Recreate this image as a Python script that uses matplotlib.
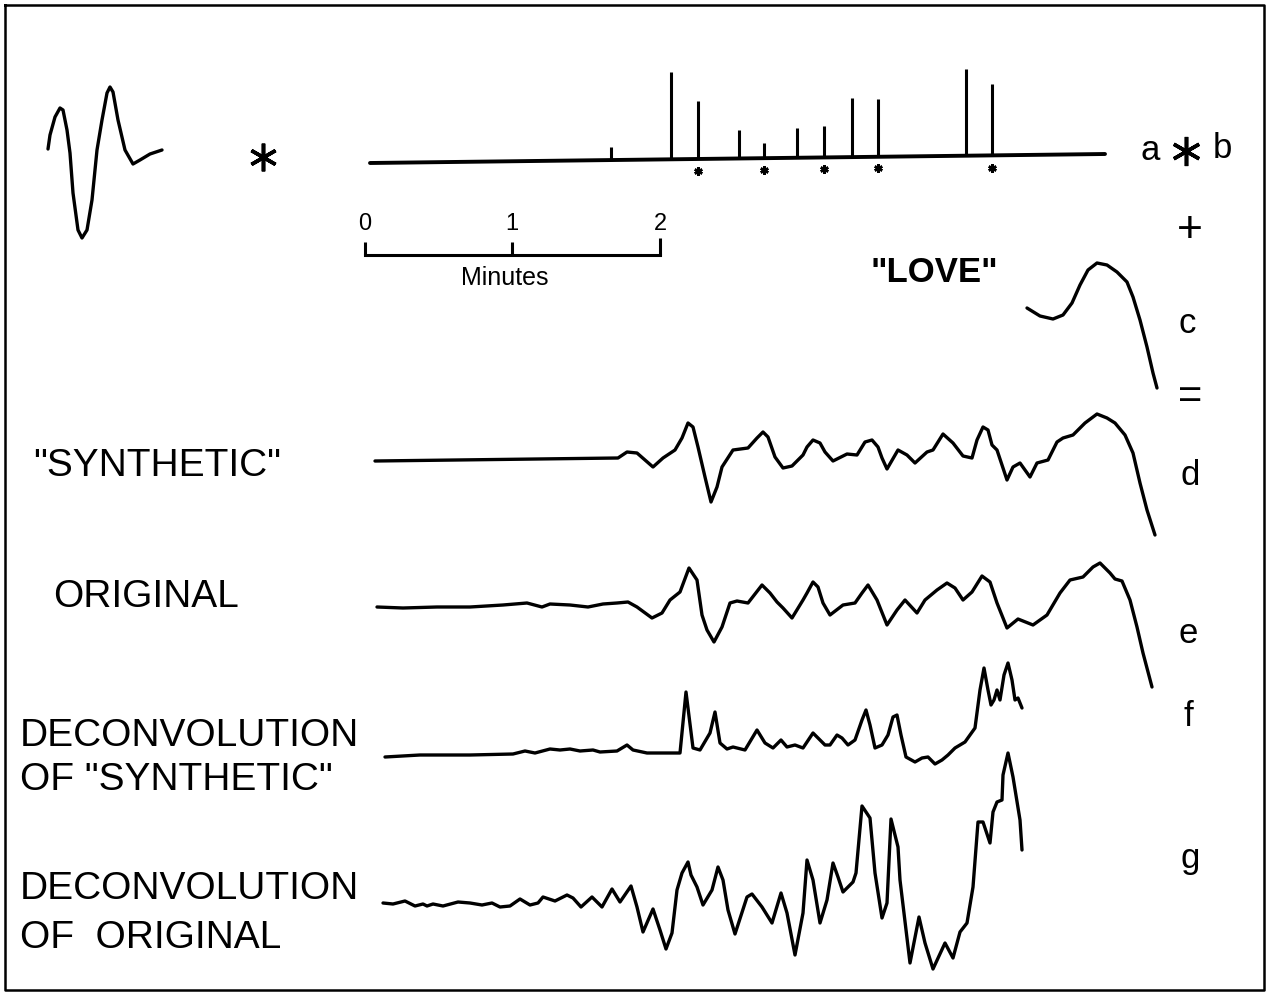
"""
Convolution sketch of a seismic record: wavelet a convolved with the
spike train b, plus the long-period "LOVE" arrival c, gives the synthetic
trace d.  Below it: the observed trace e and the two deconvolutions f, g.

Everything is drawn in page coordinates (pixels, y pointing down) on a
single frameless axes.
"""
import matplotlib
matplotlib.use("Agg")
import matplotlib.pyplot as plt

W, H = 1286, 996
FONT = ["Liberation Sans", "DejaVu Sans"]
INK = "black"

# wavelet a (top left)
WAVELET_A_X = [48, 50, 55, 60, 63, 67, 70, 73, 78, 82, 87, 92, 97, 102, 107,
               110, 113, 118, 125, 133, 140, 150, 162]
WAVELET_A_Y = [149, 135, 117, 108, 110, 130, 153, 193, 230, 238, 230, 200, 150,
               120, 93, 87, 92, 120, 150, 164, 160, 154, 150]

# spike train b
B_BASE_X = [370, 1105]
B_BASE_Y = [163, 154]
SPIKE_X = [611, 671, 698, 739, 764, 797, 824, 852, 878, 966, 992]
SPIKE_TOP = [147, 72, 101, 130, 143, 128, 126, 98, 99, 69, 84]
SPIKE_BASE = [160, 158, 158, 157, 157, 156, 156, 156, 155, 155, 155]
STARRED_X = [698, 764, 824, 878, 992]
STARRED_Y = [171, 170, 169, 168, 168]

# time scale
SCALE_X = [365, 512, 660]
SCALE_LABELS = ["0", "1", "2"]
SCALE_Y = 255

# "LOVE" wave c
LOVE_X = [1027, 1040, 1053, 1063, 1072, 1080, 1088, 1097, 1107, 1117, 1127,
          1133, 1140, 1147, 1153, 1157]
LOVE_Y = [308, 316, 319, 315, 303, 285, 270, 263, 265, 272, 282, 297, 320, 347,
          373, 388]

# d: synthetic seismogram
SYN_X = [375, 618, 627, 637, 653, 663, 675, 682, 688, 693, 698, 705, 711, 717,
         722, 733, 748, 757, 763, 768, 775, 783, 792, 803, 807, 813, 820, 825,
         833, 847, 857, 865, 872, 878, 882, 887, 898, 907, 915, 927, 933, 943,
         953, 963, 972, 977, 983, 988, 992, 997, 1007, 1013, 1020, 1030, 1037,
         1048, 1057, 1063, 1073, 1085, 1097, 1107, 1115, 1125, 1133, 1140, 1147,
         1155]
SYN_Y = [461, 458, 452, 453, 467, 458, 450, 438, 423, 427, 447, 477, 502, 487,
         467, 450, 448, 438, 432, 437, 457, 468, 466, 455, 447, 440, 443, 452,
         461, 454, 455, 442, 440, 447, 458, 469, 450, 455, 463, 452, 450, 434,
         443, 456, 458, 440, 427, 430, 445, 450, 480, 467, 463, 477, 463, 460,
         442, 438, 435, 423, 414, 418, 423, 435, 453, 483, 510, 535]

# e: original record
ORIG_X = [377, 403, 437, 470, 503, 527, 542, 550, 570, 588, 603, 617, 628, 637,
          652, 662, 670, 680, 689, 697, 702, 707, 714, 722, 730, 737, 748, 762,
          770, 777, 783, 792, 803, 807, 813, 818, 823, 830, 843, 855, 862, 868,
          877, 887, 897, 905, 917, 925, 937, 947, 955, 963, 972, 982, 990, 997,
          1007, 1018, 1033, 1047, 1060, 1070, 1083, 1093, 1100, 1110, 1115, 1122,
          1130, 1137, 1143, 1152]
ORIG_Y = [607, 608, 607, 607, 605, 603, 607, 604, 605, 607, 604, 603, 602, 607,
          618, 613, 600, 592, 568, 580, 615, 630, 642, 627, 603, 601, 603, 585,
          593, 602, 608, 618, 600, 593, 582, 587, 603, 615, 605, 603, 593, 585,
          600, 625, 610, 600, 613, 600, 590, 583, 588, 600, 592, 576, 582, 603,
          628, 619, 625, 615, 593, 580, 577, 567, 563, 573, 579, 581, 600, 627,
          653, 687]

# f: deconvolution of the synthetic
DSYN_X = [385, 420, 470, 513, 525, 535, 550, 560, 570, 580, 593, 600, 617, 627,
          633, 647, 680, 686, 693, 700, 710, 715, 720, 727, 733, 745, 757, 765,
          773, 781, 787, 795, 803, 813, 825, 830, 837, 842, 848, 855, 862, 866,
          870, 875, 882, 888, 893, 897, 901, 906, 915, 922, 928, 935, 942, 948,
          955, 960, 965, 970, 975, 980, 984, 988, 991, 994, 997, 1000, 1004,
          1008, 1012, 1015, 1018, 1022]
DSYN_Y = [757, 755, 755, 754, 751, 753, 749, 750, 749, 751, 750, 752, 751, 745,
          750, 753, 753, 692, 748, 750, 733, 712, 743, 749, 747, 750, 730, 743,
          748, 740, 747, 745, 748, 733, 745, 745, 735, 738, 745, 740, 720, 710,
          725, 748, 745, 735, 717, 715, 735, 757, 762, 758, 757, 764, 760, 755,
          748, 745, 742, 735, 728, 690, 668, 690, 705, 700, 690, 700, 675, 663,
          680, 700, 698, 708]

# g: deconvolution of the original
DORIG_X = [383, 393, 405, 415, 423, 427, 433, 443, 458, 470, 482, 492, 500, 510,
           520, 530, 538, 543, 555, 567, 573, 581, 592, 602, 612, 620, 631, 637,
           643, 653, 660, 666, 672, 677, 682, 688, 691, 697, 703, 712, 718, 723,
           728, 735, 747, 752, 762, 772, 781, 787, 795, 803, 807, 813, 820, 827,
           833, 838, 843, 853, 856, 862, 870, 875, 882, 887, 891, 898, 900, 910,
           919, 925, 933, 945, 953, 960, 967, 973, 978, 983, 990, 993, 997, 1002,
           1003, 1008, 1013, 1020, 1022]
DORIG_Y = [903, 904, 901, 906, 904, 906, 904, 906, 902, 903, 905, 903, 907, 906,
           899, 905, 903, 897, 901, 895, 898, 907, 897, 907, 889, 902, 886, 907,
           932, 909, 930, 949, 933, 890, 873, 862, 875, 887, 905, 890, 867, 880,
           910, 934, 897, 894, 907, 923, 893, 913, 955, 913, 860, 880, 923, 900,
           863, 877, 892, 882, 873, 806, 818, 873, 918, 903, 819, 847, 880, 963,
           917, 943, 969, 943, 958, 932, 923, 887, 822, 822, 843, 812, 802, 800,
           775, 753, 777, 820, 850]

# right-hand letters and operators: (text, x, y, size)
RIGHT_LABELS = [("a", 1150, 150, 25), ("b", 1222, 148, 25),
                ("+", 1190, 230, 32), ("c", 1187, 323, 25),
                ("=", 1190, 397, 30), ("d", 1190, 475, 25),
                ("e", 1188, 633, 25), ("f", 1188, 716, 25),
                ("g", 1190, 858, 25)]

# left-hand captions: (text, x, y)
LEFT_LABELS = [('"SYNTHETIC"', 33, 466), ("ORIGINAL", 53, 597),
               ("DECONVOLUTION", 20, 736), ('OF "SYNTHETIC"', 20, 780),
               ("DECONVOLUTION", 20, 889), ("OF  ORIGINAL", 20, 938)]

STAR = (6, 2, 0)


def trace(ax, x, y, lw=2.4):
    ax.plot(x, y, color=INK, lw=lw, solid_joinstyle="round",
            solid_capstyle="round")


def main():
    fig = plt.figure(figsize=(W / 100, H / 100), dpi=100)
    ax = fig.add_axes([0, 0, 1, 1])
    ax.set_xlim(0, W)
    ax.set_ylim(H, 0)
    ax.axis("off")

    # frame
    ax.plot([5, 1264, 1264, 5, 5], [5, 5, 990, 990, 5], color=INK, lw=1.8)

    # a * b
    trace(ax, WAVELET_A_X, WAVELET_A_Y)
    ax.plot([263], [157], marker=STAR, ms=20, mew=2.6, color=INK)
    trace(ax, B_BASE_X, B_BASE_Y, lw=2.8)
    ax.vlines(SPIKE_X, SPIKE_BASE, SPIKE_TOP, color=INK, lw=2.2)
    ax.plot(STARRED_X, STARRED_Y, ls="none", marker=STAR, ms=6, mew=1.8,
            color=INK)
    ax.plot([1186], [151], marker=STAR, ms=21, mew=2.6, color=INK)

    # minutes scale bar
    ax.plot([SCALE_X[0], SCALE_X[-1]], [SCALE_Y, SCALE_Y], color=INK, lw=2.2)
    ax.vlines(SCALE_X, [242, 242, 238], SCALE_Y, color=INK, lw=2.2)
    for xs, lab in zip(SCALE_X, SCALE_LABELS):
        ax.text(xs, 235, lab, ha="center", va="bottom", fontsize=17,
                family=FONT)
    ax.text(505, 278, "Minutes", ha="center", va="center", fontsize=18,
            family=FONT)

    # LOVE wave
    ax.text(934, 272, '"LOVE"', ha="center", va="center", fontsize=25,
            fontweight="bold", family=FONT)
    trace(ax, LOVE_X, LOVE_Y)

    # seismograms
    trace(ax, SYN_X, SYN_Y)
    trace(ax, ORIG_X, ORIG_Y)
    trace(ax, DSYN_X, DSYN_Y)
    trace(ax, DORIG_X, DORIG_Y)

    for txt, x, y, size in RIGHT_LABELS:
        ax.text(x, y, txt, ha="center", va="center", fontsize=size,
                family=FONT)
    for txt, x, y in LEFT_LABELS:
        ax.text(x, y, txt, ha="left", va="center", fontsize=28, family=FONT)

    fig.savefig("out.png", dpi=100, facecolor="white")
    plt.close(fig)


if __name__ == "__main__":
    main()
